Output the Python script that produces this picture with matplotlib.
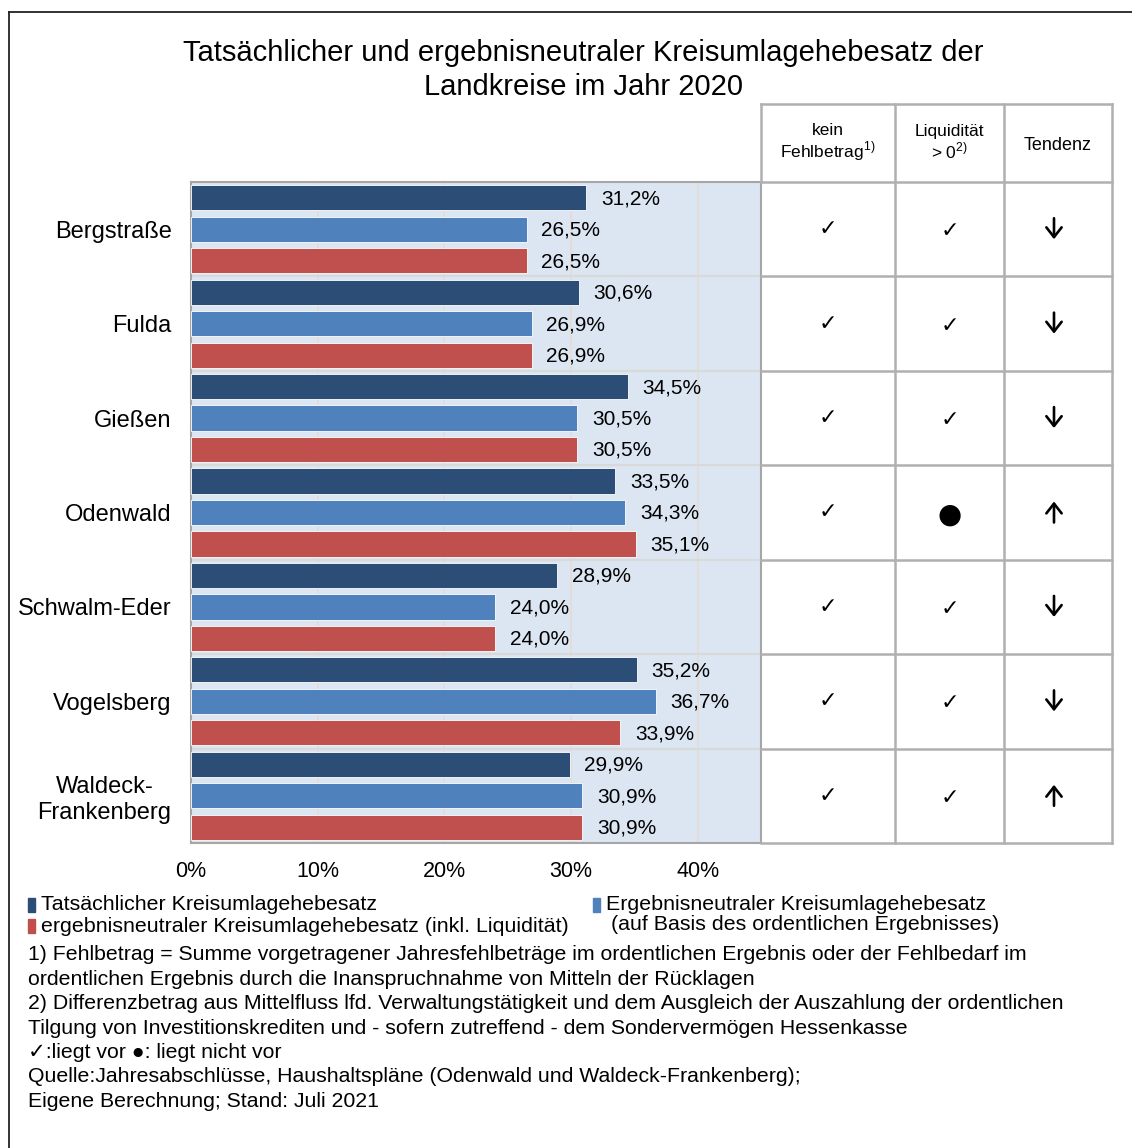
import numpy as np
import matplotlib
matplotlib.use("Agg")
import matplotlib.pyplot as plt
from matplotlib.lines import Line2D
from matplotlib.patches import Rectangle, FancyArrowPatch

plt.rcParams["font.family"] = ["Liberation Sans", "DejaVu Sans"]
plt.rcParams["mathtext.fontset"] = "custom"
plt.rcParams["mathtext.rm"] = "Liberation Sans"

# ---- data ----
kreise = ["Bergstraße", "Fulda", "Gießen", "Odenwald", "Schwalm-Eder", "Vogelsberg",
          "Waldeck-\nFrankenberg"]
tatsaechlich = [31.2, 30.6, 34.5, 33.5, 28.9, 35.2, 29.9]
neutral_ergebnis = [26.5, 26.9, 30.5, 34.3, 24.0, 36.7, 30.9]
neutral_liquid = [26.5, 26.9, 30.5, 35.1, 24.0, 33.9, 30.9]
kein_fehlbetrag = ["✓", "✓", "✓", "✓", "✓", "✓", "✓"]
liquiditaet = ["✓", "✓", "✓", "●", "✓", "✓", "✓"]
tendenz = ["down", "down", "down", "up", "down", "down", "up"]
xticks = [0, 10, 20, 30, 40]

series = [
    ("Tatsächlicher Kreisumlagehebesatz", tatsaechlich, "#2c4d75"),
    ("Ergebnisneutraler Kreisumlagehebesatz", neutral_ergebnis, "#4f81bd"),
    ("ergebnisneutraler Kreisumlagehebesatz (inkl. Liquidität)", neutral_liquid, "#c0504d"),
]

W, H = 1132, 1148
fig = plt.figure(figsize=(W / 100, H / 100), dpi=100)

def fx(x): return x / W
def fy(y): return 1 - y / H

# ---- bar chart ----
L, R, T, B = 191, 761, 182, 843
ax = fig.add_axes([fx(L), fy(B), fx(R - L), (B - T) / H])
ax.set_facecolor("#dce6f2")
n = len(kreise)
for j, (lab, vals, col) in enumerate(series):
    ys = np.arange(n) * 3 + j + 0.5
    ax.barh(ys, vals, height=0.8, color=col, edgecolor="white", linewidth=0.6, zorder=3)
    for yv, v in zip(ys, vals):
        ax.text(v + 1.15, yv + 0.03, f"{v:.1f}%".replace(".", ","), va="center", ha="left",
                fontsize=15, zorder=4)
ax.set_xlim(0, 45)
ax.set_ylim(n * 3, 0)
for xv in xticks[1:]:
    ax.axvline(xv, color="#e3ddd8", lw=1.3, zorder=1)
for i in range(1, n):
    ax.axhline(i * 3, color="#d9d9d9", lw=1.5, zorder=1)
ax.set_xticks(xticks)
ax.set_xticklabels([f"{v}%" for v in xticks], fontsize=15.5)
ax.set_yticks(np.arange(n) * 3 + 1.5)
ax.set_yticklabels(kreise, fontsize=17)
for t in ax.get_yticklabels():
    t.set_multialignment("center")
ax.tick_params(length=0, axis="y", pad=14)
ax.tick_params(length=0, axis="x", pad=13)
for s in ax.spines.values():
    s.set_color("#a6a6a6")
    s.set_linewidth(1.5)

# ---- table on the right ----
cols = [761, 895, 1004, 1112]
grid = "#b0b0b0"
row_h = (B - T) / n
def hline(y, x0, x1, c=grid):
    fig.add_artist(Line2D([fx(x0), fx(x1)], [fy(y), fy(y)], color=c, lw=1.8))
def vline(x, y0, y1, c=grid):
    fig.add_artist(Line2D([fx(x), fx(x)], [fy(y0), fy(y1)], color=c, lw=1.8))
hline(104, 761, 1112)
for k in range(n + 1):
    hline(T + k * row_h, 761, 1112)
for x in cols[1:]:
    vline(x, 104, B)
vline(761, 104, T)

centers = [(cols[i] + cols[i + 1]) / 2 for i in range(3)]
fig.text(fx(centers[0]), fy(143), "kein\nFehlbetrag$^{1)}$", ha="center", va="center",
         fontsize=12.5, linespacing=1.1)
fig.text(fx(centers[1]), fy(143), "Liquidität\n> 0$^{2)}$", ha="center", va="center",
         fontsize=12.5, linespacing=1.1)
fig.text(fx(centers[2]), fy(145), "Tendenz", ha="center", va="center", fontsize=13)
for i in range(n):
    yc = T + (i + 0.5) * row_h
    fig.text(fx(centers[0]), fy(yc), kein_fehlbetrag[i], ha="center", va="center",
             fontsize=16, family="DejaVu Sans")
    sym = liquiditaet[i]
    fig.text(fx(centers[1]), fy(yc + 2), sym, ha="center", va="center",
             fontsize=20 if sym == "●" else 16, family="DejaVu Sans")
    xa = centers[2] - 4
    y0, y1 = (yc - 11, yc + 10) if tendenz[i] == "down" else (yc + 10, yc - 11)
    fig.add_artist(FancyArrowPatch((fx(xa), fy(y0)), (fx(xa), fy(y1)),
                                   transform=fig.transFigure, arrowstyle="->,head_length=7,head_width=5.5",
                                   color="black", lw=1.9, mutation_scale=1, shrinkA=0, shrinkB=0))

# ---- title ----
fig.text(fx(583), fy(70), "Tatsächlicher und ergebnisneutraler Kreisumlagehebesatz der\n"
         "Landkreise im Jahr 2020", ha="center", va="center", fontsize=21, linespacing=1.3)

# ---- legend ----
def legend_item(x, y, col, text):
    fig.add_artist(Rectangle((fx(x), fy(y + 7)), fx(7), 14 / H, color=col))
    fig.text(fx(x + 13), fy(y), text, ha="left", va="center", fontsize=15.4)
legend_item(28, 905, series[0][2], series[0][0])
legend_item(28, 926, series[2][2], series[2][0])
legend_item(593, 905, series[1][2], series[1][0])
fig.text(fx(611), fy(925), "(auf Basis des ordentlichen Ergebnisses)", ha="left", va="center",
         fontsize=15.4)

# ---- footnotes ----
notes = [
    "1) Fehlbetrag = Summe vorgetragener Jahresfehlbeträge im ordentlichen Ergebnis oder der Fehlbedarf im",
    "ordentlichen Ergebnis durch die Inanspruchnahme von Mitteln der Rücklagen",
    "2) Differenzbetrag aus Mittelfluss lfd. Verwaltungstätigkeit und dem Ausgleich der Auszahlung der ordentlichen",
    "Tilgung von Investitionskrediten und - sofern zutreffend - dem Sondervermögen Hessenkasse",
    "✓:liegt vor ●: liegt nicht vor",
    "Quelle:Jahresabschlüsse, Haushaltspläne (Odenwald und Waldeck-Frankenberg);",
    "Eigene Berechnung; Stand: Juli 2021",
]
for k, line in enumerate(notes):
    fig.text(fx(28), fy(955 + k * 24.4), line, ha="left", va="center", fontsize=15.3)

# ---- outer frame (left and top edges) ----
fig.add_artist(Line2D([fx(9), fx(9)], [fy(12), 0], color="#222222", lw=1.3))
fig.add_artist(Line2D([fx(9), 1], [fy(12), fy(12)], color="#222222", lw=1.3))

fig.savefig("out.png", dpi=100)
